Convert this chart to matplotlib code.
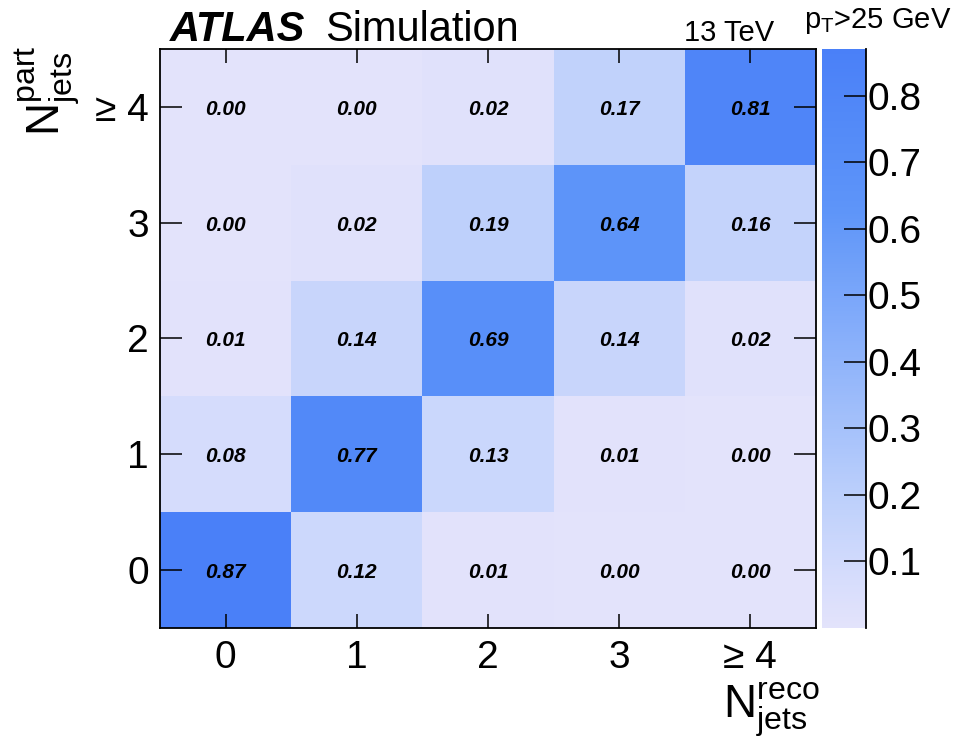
import numpy as np
import matplotlib
matplotlib.use("Agg")
import matplotlib.pyplot as plt
from matplotlib.colors import LinearSegmentedColormap

plt.rcParams['font.family'] = ['Liberation Sans', 'DejaVu Sans']
plt.rcParams['mathtext.default'] = 'regular'

# migration matrix: rows = particle level, cols = reco level
reco_labels = ["0", "1", "2", "3", "≥ 4"]
part_labels = ["0", "1", "2", "3", "≥ 4"]
row_part0 = [0.87, 0.12, 0.01, 0.00, 0.00]
row_part1 = [0.08, 0.77, 0.13, 0.01, 0.00]
row_part2 = [0.01, 0.14, 0.69, 0.14, 0.02]
row_part3 = [0.00, 0.02, 0.19, 0.64, 0.16]
row_part4 = [0.00, 0.00, 0.02, 0.17, 0.81]
cbar_ticks = [0.1, 0.2, 0.3, 0.4, 0.5, 0.6, 0.7, 0.8]

matrice = np.array([row_part0, row_part1, row_part2, row_part3, row_part4])
vmax = matrice.max()

cmap = LinearSegmentedColormap.from_list("atlas_bleu", [
    (0.0, "#e3e3fb"),
    (0.09, "#d5dcfc"),
    (0.22, "#bdd0fb"),
    (0.72, "#5e95f9"),
    (0.885, "#5289f8"),
    (1.0, "#4a80f8"),
])

fig = plt.figure(figsize=(9.61, 7.41), dpi=100)
ax = fig.add_axes([0.1665, 0.1525, 0.6825, 0.7814])
cax = fig.add_axes([0.8554, 0.1525, 0.0458, 0.7814])

bords = np.arange(len(reco_labels) + 1) - 0.5
mesh = ax.pcolormesh(bords, bords, matrice, cmap=cmap, vmin=0, vmax=vmax)

for i in range(matrice.shape[0]):
    for j in range(matrice.shape[1]):
        ax.text(j, i - 0.02, f"{matrice[i, j]:.2f}", ha="center", va="center",
                fontsize=15, fontweight="bold", fontstyle="italic")

ax.set_xticks(range(len(reco_labels)))
ax.set_xticklabels(reco_labels, fontsize=28)
ax.set_yticks(range(len(part_labels)))
ax.set_yticklabels(part_labels, fontsize=28)
ax.tick_params(axis="both", direction="in", top=True, right=True, width=1.1)
ax.tick_params(axis="x", length=10, pad=9)
ax.tick_params(axis="y", length=16, pad=8)
for s in ax.spines.values():
    s.set_linewidth(1.3)

cb = fig.colorbar(mesh, cax=cax)
cb.set_ticks(cbar_ticks)
cb.set_ticklabels([f"{t:.1f}" for t in cbar_ticks])
cb.outline.set_visible(False)
cax.tick_params(direction="in", length=16, width=1.1, labelsize=28, pad=1)
cax.plot([1, 1], [0, 1], transform=cax.transAxes, color="k", lw=1.3, clip_on=False)

# textes ATLAS
fig.text(0.177, 0.945, "ATLAS", fontsize=30, fontweight="bold", fontstyle="italic")
fig.text(0.338, 0.945, "Simulation", fontsize=30)
fig.text(0.806, 0.945, "13 TeV", fontsize=21, ha="right")
fig.text(0.837, 0.962, r"$p_{T}$>25 GeV", fontsize=21)

fig.text(47 / 961, 1 - 91 / 741, r"$N^{part}_{jets}$", fontsize=33,
         rotation=90, ha="center", va="center")
fig.text(771 / 961, 1 - 710 / 741, r"$N^{reco}_{jets}$", fontsize=33,
         ha="center", va="center")

plt.savefig("out.png", dpi=100)
